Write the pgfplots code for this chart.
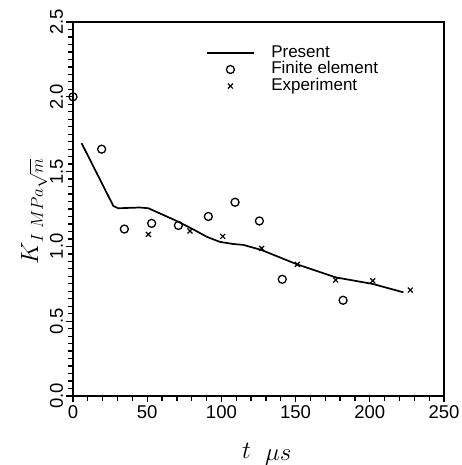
\documentclass[border=0pt]{standalone}
\usepackage{fontspec}
\setmainfont{Liberation Sans}
\usepackage{pgfplots}
\pgfplotsset{compat=1.18}

\begin{document}
\begin{tikzpicture}
\useasboundingbox (-73pt,-69pt) rectangle (388pt,396pt);
\begin{axis}[
  at={(0pt,0pt)}, anchor=south west,
  width=371pt, height=374pt, scale only axis,
  xmin=0, xmax=250, ymin=0, ymax=2.5,
  xtick={0,50,...,250}, ytick={0,0.5,...,2.5},
  minor x tick num=4, minor y tick num=9,
  tick align=outside, tick pos=left,
  major tick length=6.5pt, minor tick length=5pt,
  axis line style={line width=2pt},
  every tick/.style={black, line width=1.3pt},
  tick label style={font=\fontsize{18.5}{18.5}\selectfont},
  /pgf/number format/assume math mode=true,
  y tick label style={rotate=90, anchor=south,
    /pgf/number format/.cd, fixed, fixed zerofill, precision=1},
  clip=false,
  legend cell align=left,
  legend style={draw=none, fill=none, at={(0.350,0.945)}, anchor=north west,
    font=\fontsize{17}{17}\selectfont, row sep=0pt, column sep=16pt,
    nodes={inner sep=0.5pt, text height=12pt, text depth=3.5pt}},
  legend image code/.code={\draw[#1, mark repeat=2, mark phase=2]
    plot coordinates {(0pt,0pt) (23.5pt,0pt) (47pt,0pt)};},
]
\addplot[black, line width=1.7pt] coordinates {
  (5.8,1.69) (27.2,1.27) (30.5,1.255) (45,1.26) (50.8,1.255) (58.6,1.22)
  (69.9,1.17) (81,1.114) (90,1.065) (99,1.03) (108,1.016) (114.8,1.01)
  (127,0.976) (151,0.88) (177,0.793) (202,0.749) (222.6,0.693)};
\addlegendentry{Present}
\addplot[black, only marks, mark=o, mark size=4pt, line width=1.3pt] coordinates {
  (0,2.0) (19.3,1.65) (34.6,1.116) (53,1.154) (71,1.14) (91.2,1.20)
  (109.2,1.295) (125.6,1.17) (141,0.78) (182,0.64)};
\addlegendentry{Finite element}
\addplot[black, only marks, mark=x, mark size=3.5pt, line width=1.2pt] coordinates {
  (50.8,1.08) (78.8,1.103) (100.9,1.067) (127.1,0.987) (151.2,0.88)
  (177,0.775) (202,0.77) (227.3,0.708)};
\addlegendentry{Experiment}
\end{axis}
\node[anchor=base west, inner sep=0pt] at (169pt,-62pt)
  {\fontsize{42}{44}\selectfont$t$};
\node[anchor=base west, inner sep=0pt] at (192pt,-64pt)
  {\fontsize{24}{26}\selectfont$\mu s$};
\node[rotate=90, anchor=base west, inner sep=0pt] at (-35pt,131pt)
  {\fontsize{29}{30}\selectfont$K$\raisebox{-5pt}{\fontsize{16}{17}\selectfont$I\;MPa\sqrt{m}$}};
\end{tikzpicture}
\end{document}
